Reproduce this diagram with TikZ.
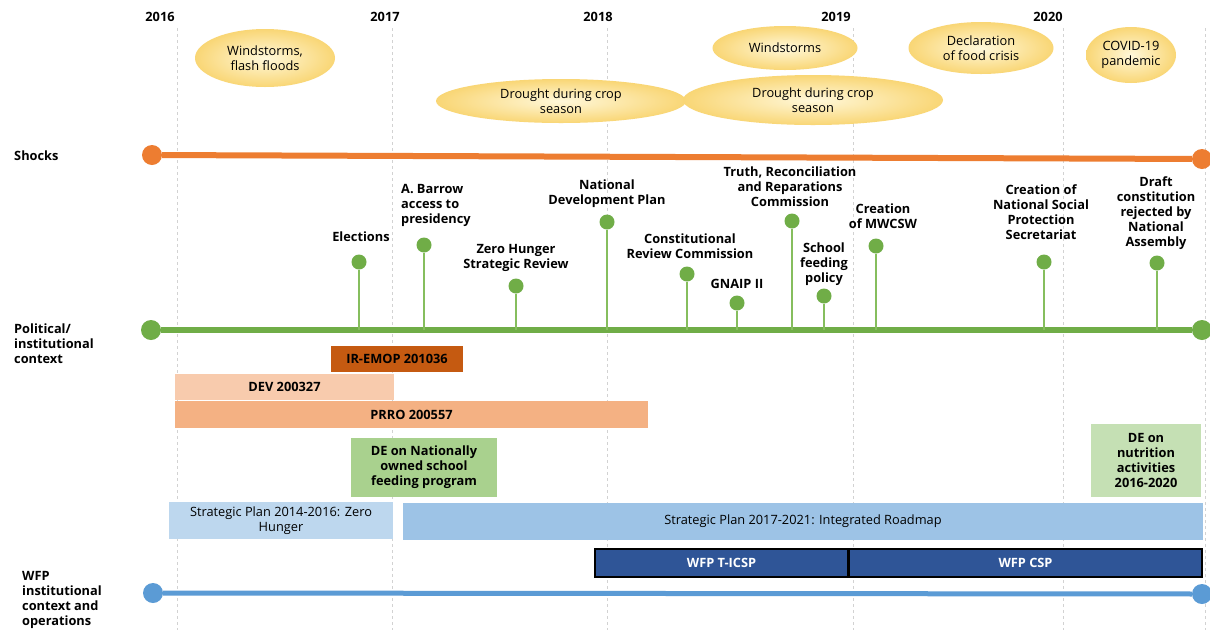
\documentclass[tikz,border=0pt]{standalone}
\usepackage{fontspec}
\setmainfont{Open Sans}
\usetikzlibrary{shapes.geometric}
\definecolor{shockor}{HTML}{ED7D31}
\definecolor{polgreen}{HTML}{70AD47}
\definecolor{stemgreen}{HTML}{86BE5E}
\definecolor{wfpblue}{HTML}{5B9BD5}
\definecolor{ellin}{HTML}{FFF8DA}
\definecolor{ellout}{HTML}{F9D675}
\definecolor{iremop}{HTML}{C55A11}
\definecolor{devc}{HTML}{F8CBAD}
\definecolor{prroc}{HTML}{F4B183}
\definecolor{deschool}{HTML}{A9D18E}
\definecolor{denut}{HTML}{C5E0B4}
\definecolor{spone}{HTML}{BDD7EE}
\definecolor{sptwo}{HTML}{9DC3E6}
\definecolor{darkbl}{HTML}{2F5597}
\newcommand{\fntB}{\bfseries\fontsize{12.8}{15}\selectfont}
\newcommand{\fntR}{\fontsize{12.8}{15}\selectfont}
\begin{document}
\begin{tikzpicture}[x=1pt,y=-1pt,
  yearlbl/.style={font=\fntB, inner sep=0},
  grid/.style={gray!35, line width=0.6pt, dash pattern=on 3pt off 3pt},
  shock/.style={ellipse, inner sep=0, shading=radial, inner color=ellin, outer color=ellout, font=\fntR, align=center},
  endpt/.style={circle, inner sep=0, minimum size=20},
  evdot/.style={circle, fill=polgreen, inner sep=0, minimum size=15},
  stem/.style={stemgreen, line width=1.8pt},
  evlbl/.style={font=\fntB, align=center, inner sep=0},
  rowlbl/.style={font=\fntB, align=left, inner sep=0, anchor=west},
  bar/.style={rectangle, inner sep=0, font=\fntB, align=center},
  plan/.style={rectangle, inner sep=0, font=\fntR, align=center},
  wfpbox/.style={rectangle, inner sep=0, fill=darkbl, draw=black, line width=1.2pt, text=white, font=\fntB}
]
\useasboundingbox (0,0) rectangle (1210,630);
\fill[white] (0,0) rectangle (1210,630);

% grid lines
\foreach \gx in {177,392,607,853,1063,1205}
  \draw[grid] (\gx,28) -- (\gx,630);

% years
\node[yearlbl] (y16) at (160,17) {2016};
\node[yearlbl] (y17) at (385,17) {2017};
\node[yearlbl] (y18) at (598,17) {2018};
\node[yearlbl] (y19) at (836,17) {2019};
\node[yearlbl] (y20) at (1048,17) {2020};

% shocks ellipses
\node[shock, minimum width=140, minimum height=58] (s1) at (265,58) {Windstorms,\\flash floods};
\node[shock, minimum width=250, minimum height=44] (s2) at (561,101) {Drought during crop\\season};
\node[shock, minimum width=260, minimum height=50] (s4) at (813,100) {Drought during crop\\season};
\node[shock, minimum width=145, minimum height=44] (s3) at (785,48) {Windstorms};
\node[shock, minimum width=145, minimum height=52] (s5) at (981,48) {Declaration\\of food crisis};
\node[shock, minimum width=90, minimum height=56] (s6) at (1131,55) {COVID-19\\pandemic};

% row labels
\node[rowlbl] (lshock) at (14,156) {Shocks};
\node[rowlbl] (lpol) at (14,343.5) {Political/\\institutional\\context};
\node[rowlbl] (lwfp) at (22,599.5) {WFP\\institutional\\context and\\operations};

% timelines
\node[endpt, fill=shockor] (sL) at (152,155) {};
\node[endpt, fill=shockor] (sR) at (1202,159) {};
\draw[shockor, line width=6pt] (sL) -- (sR);
\node[endpt, fill=polgreen] (pL) at (151,330) {};
\node[endpt, fill=polgreen] (pR) at (1202,330) {};
\draw[polgreen, line width=6pt] (pL) -- (pR);
\coordinate (gl) at (600,330);
\node[endpt, fill=wfpblue] (wL) at (153,593) {};
\node[endpt, fill=wfpblue] (wR) at (1202,594) {};
\draw[wfpblue, line width=5pt] (wL) -- (wR);

% political events
\node[evdot] (e1) at (359,262) {};
\node[evdot] (e2) at (424,245) {};
\node[evdot] (e3) at (516,286) {};
\node[evdot] (e4) at (607,222) {};
\node[evdot] (e5) at (687,274) {};
\node[evdot] (e6) at (737,303) {};
\node[evdot] (e7) at (792,221) {};
\node[evdot] (e8) at (824,296) {};
\node[evdot] (e9) at (876,246) {};
\node[evdot] (e10) at (1044,262) {};
\node[evdot] (e11) at (1157,263) {};
\foreach \e in {e1,e2,e3,e4,e5,e6,e7,e8,e9,e10,e11}
  \draw[stem] (\e.south) -- (\e |- gl);

\node[evlbl] (t1) at (361,237) {Elections};
\node[evlbl, align=left, anchor=west] (t2) at (401,205) {A. Barrow\\access to\\presidency};
\node[evlbl] (t3) at (516,257.5) {Zero Hunger\\Strategic Review};
\node[evlbl] (t4) at (607,193.5) {National\\Development Plan};
\node[evlbl] (t5) at (690,246.5) {Constitutional\\Review Commission};
\node[evlbl] (t6) at (737,284) {GNAIP II};
\node[evlbl] (t7) at (790,187) {Truth, Reconciliation\\and Reparations\\Commission};
\node[evlbl] (t8) at (824,264) {School\\feeding\\policy};
\node[evlbl] (t9) at (883,216.5) {Creation\\of MWCSW};
\node[evlbl] (t10) at (1041,212.5) {Creation of\\National Social\\Protection\\Secretariat};
\node[evlbl] (t11) at (1156,213) {Draft\\constitution\\rejected by\\National\\Assembly};

% operations bars
\node[bar, fill=iremop, minimum width=132, minimum height=26] (b1) at (397,359) {IR-EMOP 201036};
\node[bar, fill=devc, minimum width=219, minimum height=26] (b2) at (284.5,387) {DEV 200327};
\node[bar, fill=prroc, minimum width=473, minimum height=27] (b3) at (411.5,414.5) {PRRO 200557};
\node[bar, fill=deschool, minimum width=146, minimum height=59] (b4) at (424,467.5) {DE on Nationally\\owned school\\feeding program};
\node[bar, fill=denut, minimum width=110, minimum height=73] (b5) at (1146,460.5) {DE on\\nutrition\\activities\\2016-2020};
\node[plan, fill=spone, minimum width=224, minimum height=37] (p1) at (281,520.5) {Strategic Plan 2014-2016: Zero\\Hunger};
\node[plan, fill=sptwo, minimum width=800, minimum height=37] (p2) at (803,521.5) {Strategic Plan 2017-2021: Integrated Roadmap};
\node[wfpbox, minimum width=253, minimum height=28] (w1) at (721.5,563) {WFP T-ICSP};
\node[wfpbox, minimum width=353, minimum height=28] (w2) at (1025.5,563) {WFP CSP};
\end{tikzpicture}
\end{document}
